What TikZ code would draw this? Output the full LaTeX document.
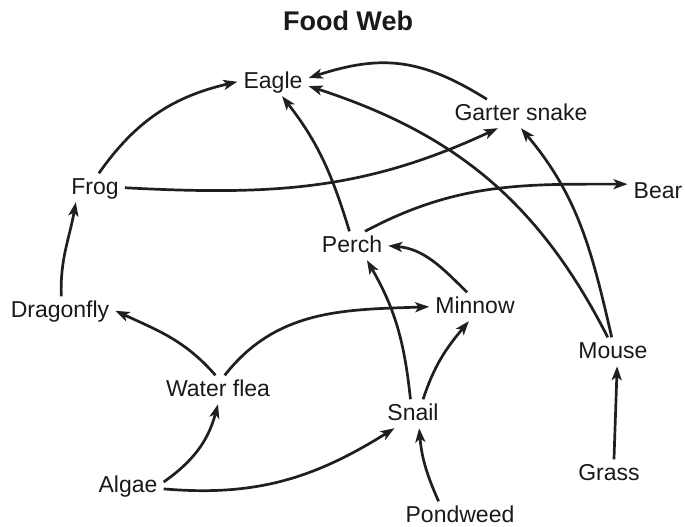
\documentclass[tikz,border=0pt]{standalone}
\usepackage{fontspec}
\setmainfont{Liberation Sans}
\usetikzlibrary{arrows.meta}

\begin{document}
\begin{tikzpicture}[x=1pt,y=1pt,
  animal/.style={inner xsep=6pt,inner ysep=5pt,text height=16.5pt,text depth=2pt,
    font=\fontsize{23}{27}\selectfont,text=black!90},
  eats/.style={line width=2.7pt,draw=black!88,-{Stealth[length=14pt,width=10pt,inset=3.5pt]}}]
\useasboundingbox (0,0) rectangle (685,527);

\node[anchor=base,font=\bfseries\fontsize{27}{32}\selectfont,text=black!90] (title) at (348,496) {Food Web};

% who is in the pond and round it
\node[animal] (eagle) at (273,445.25) {Eagle};
\node[animal] (garter) at (521,413.25) {Garter snake};
\node[animal] (frog) at (95,339.25) {Frog};
\node[animal] (bear) at (658,335.25) {Bear};
\node[animal] (perch) at (352,281.25) {Perch};
\node[animal] (dragonfly) at (60,216.25) {Dragonfly};
\node[animal] (minnow) at (475,220.25) {Minnow};
\node[animal] (mouse) at (613,175.25) {Mouse};
\node[animal] (waterflea) at (218,137.25) {Water flea};
\node[animal] (snail) at (413,113.25) {Snail};
\node[animal] (algae) at (128,41.25) {Algae};
\node[animal] (grass) at (609,53.25) {Grass};
\node[animal] (pondweed) at (460,11.25) {Pondweed};

% arrows point from food to eater
\draw[eats] (frog.75) to[out=55,in=193] (eagle.west);
\draw[eats] (garter.157) to[out=148,in=18,looseness=1.1] (eagle.6);
\draw[eats] (mouse.110) to[out=117,in=-18] (eagle.-7);
\draw[eats] (mouse.95) to[out=103,in=-50] (garter.south);
\draw[eats] (frog.east) to[out=-3,in=205] (garter.212);
\draw[eats] (perch.100) to[out=107,in=-52] (eagle.-58);
\draw[eats] (perch.48) to[out=28,in=180] (bear.166);
\draw[eats] (minnow.119) to[out=135,in=-5] (perch.east);
\draw[eats] (snail.100) to[out=96,in=-60] (perch.-44);
\draw[eats] (snail.55) to[out=72,in=230] (minnow.-113);
\draw[eats] (dragonfly.85) to[out=92,in=-100] (frog.217);
\draw[eats] (waterflea.100) to[out=131,in=-25] (dragonfly.east);
\draw[eats] (waterflea.65) to[out=52,in=182] (minnow.west);
\draw[eats] (algae.6) to[out=35,in=-105] (waterflea.south);
\draw[eats] (algae.-5) to[out=-5,in=212] (snail.218);
\draw[eats] (pondweed.146) to[out=114,in=-85] (snail.-67);
\draw[eats] (grass.71) -- (mouse.-74);
\end{tikzpicture}
\end{document}
